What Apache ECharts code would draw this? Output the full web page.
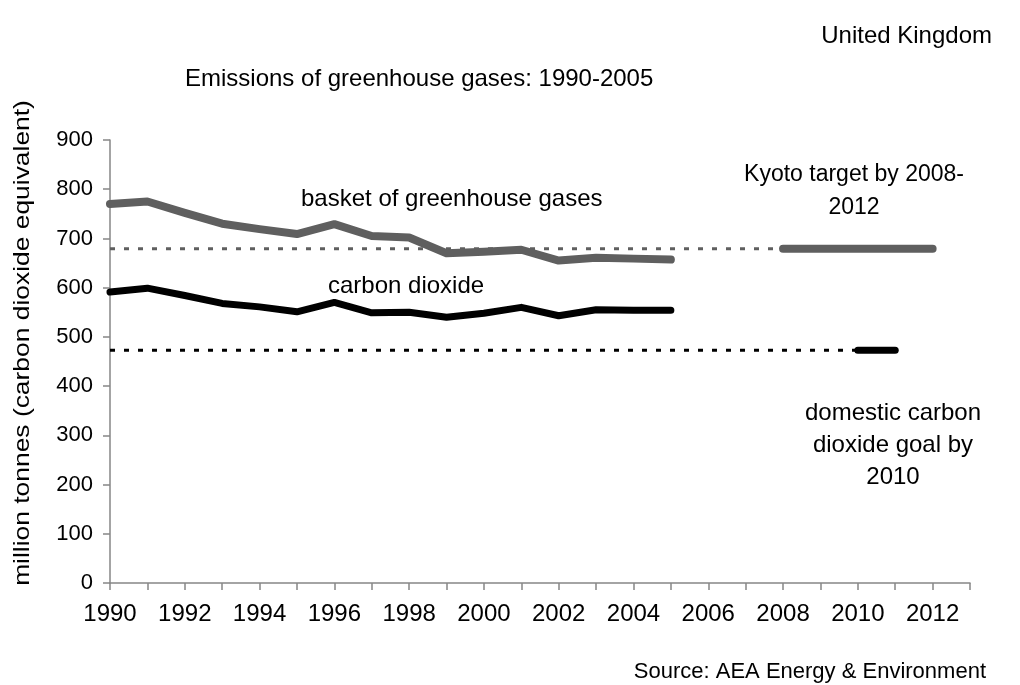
<!DOCTYPE html>
<html>
<head>
<meta charset="utf-8">
<script src="https://cdn.jsdelivr.net/npm/echarts@6/dist/echarts.min.js"></script>
<style>
html, body { margin: 0; padding: 0; background: #fff; }
#chart { width: 1020px; height: 685px; }
</style>
</head>
<body>
<div id="chart"></div>
<script>
var years = [1990, 1991, 1992, 1993, 1994, 1995, 1996, 1997, 1998, 1999, 2000, 2001, 2002, 2003, 2004, 2005];
var basketValues = [770, 775, 752, 730, 719, 709, 729, 705, 702, 670, 673, 677, 655, 661, 659, 657];
var co2Values = [591, 599, 584, 568, 561, 551, 570, 549, 550, 540, 548, 560, 543, 555, 554, 554];
var kyotoTarget = 679;
var kyotoYears = [2008, 2012];
var domesticGoal = 473;
var domesticYears = [2010, 2011];

var font = '"Liberation Sans", Arial, sans-serif';
var grey = '#5f5f5f';
var fs = 24;

var myChart = echarts.init(document.getElementById('chart'));

function pairs(xs, ys) {
    var out = [];
    for (var i = 0; i < xs.length; i++) {
        out.push([xs[i], ys[i]]);
    }
    return out;
}

function txt(extra) {
    var s = { fontFamily: font, fontSize: fs, fontWeight: 'normal', color: '#000' };
    for (var k in extra) s[k] = extra[k];
    return s;
}

var option = {
    animation: false,
    backgroundColor: '#fff',
    textStyle: { fontFamily: font },
    title: [
        { text: 'United Kingdom', right: 23, top: 19, textStyle: txt({}) },
        { text: 'Emissions of greenhouse gases: 1990-2005', left: 180, top: 62, textStyle: txt({}) },
        { text: 'basket of greenhouse gases', left: 296, top: 182, textStyle: txt({}) },
        { text: 'carbon dioxide', left: 323, top: 269, textStyle: txt({}) },
        { text: 'Kyoto target by 2008-\n2012', left: 849, top: 153, textAlign: 'center', textStyle: txt({ fontSize: 23, lineHeight: 33, align: 'center' }) },
        { text: 'domestic carbon\ndioxide goal by\n2010', left: 888, top: 392, textAlign: 'center', textStyle: txt({ lineHeight: 32, align: 'center' }) },
        { text: 'Source: AEA Energy & Environment', right: 29, top: 656, textStyle: txt({ fontSize: 22 }) }
    ],
    graphic: [
        {
            type: 'text',
            x: 23,
            y: 343,
            rotation: Math.PI / 2,
            scaleX: 1.2,
            style: {
                text: 'million tonnes (carbon dioxide equivalent)',
                font: '22px "Liberation Sans", Arial, sans-serif',
                fill: '#000',
                align: 'center',
                verticalAlign: 'middle',
                textAlign: 'center',
                textVerticalAlign: 'middle'
            }
        }
    ],
    grid: { left: 110, right: 50, top: 140, bottom: 102, containLabel: false },
    xAxis: {
        type: 'value',
        min: 1990,
        max: 2013,
        interval: 1,
        axisLine: { lineStyle: { color: '#868686', width: 1.5 } },
        axisTick: { show: true, length: 7, lineStyle: { color: '#868686', width: 1.5 } },
        splitLine: { show: false },
        axisLabel: {
            margin: 19,
            fontFamily: font,
            fontSize: fs,
            color: '#000',
            formatter: function (v) {
                return (v % 2 === 0 && v < 2013) ? String(v) : '';
            }
        }
    },
    yAxis: {
        type: 'value',
        min: 0,
        max: 900,
        interval: 100,
        axisLine: { show: true, lineStyle: { color: '#868686', width: 1.5 } },
        axisTick: { show: true, length: 7, lineStyle: { color: '#868686', width: 1.5 } },
        splitLine: { show: false },
        axisLabel: { margin: 17, fontFamily: font, fontSize: 22, color: '#000' }
    },
    series: [
        {
            name: 'kyoto dotted',
            type: 'line',
            symbol: 'none',
            data: [[years[0], kyotoTarget], [kyotoYears[0], kyotoTarget]],
            lineStyle: { color: grey, width: 3, type: [5, 9] }
        },
        {
            name: 'domestic dotted',
            type: 'line',
            symbol: 'none',
            data: [[years[0], domesticGoal], [domesticYears[0], domesticGoal]],
            lineStyle: { color: '#000', width: 3, type: [5, 9] }
        },
        {
            name: 'basket of greenhouse gases',
            type: 'line',
            symbol: 'none',
            data: pairs(years, basketValues),
            lineStyle: { color: grey, width: 8, cap: 'round', join: 'round' }
        },
        {
            name: 'carbon dioxide',
            type: 'line',
            symbol: 'none',
            data: pairs(years, co2Values),
            lineStyle: { color: '#000', width: 7, cap: 'round', join: 'round' }
        },
        {
            name: 'Kyoto target',
            type: 'line',
            symbol: 'none',
            data: [[kyotoYears[0], kyotoTarget], [kyotoYears[1], kyotoTarget]],
            lineStyle: { color: grey, width: 8, cap: 'round' }
        },
        {
            name: 'domestic goal',
            type: 'line',
            symbol: 'none',
            data: [[domesticYears[0], domesticGoal], [domesticYears[1], domesticGoal]],
            lineStyle: { color: '#000', width: 7, cap: 'round' }
        }
    ]
};

if (option && typeof option === 'object') {
    myChart.setOption(option);
}
</script>
</body>
</html>
